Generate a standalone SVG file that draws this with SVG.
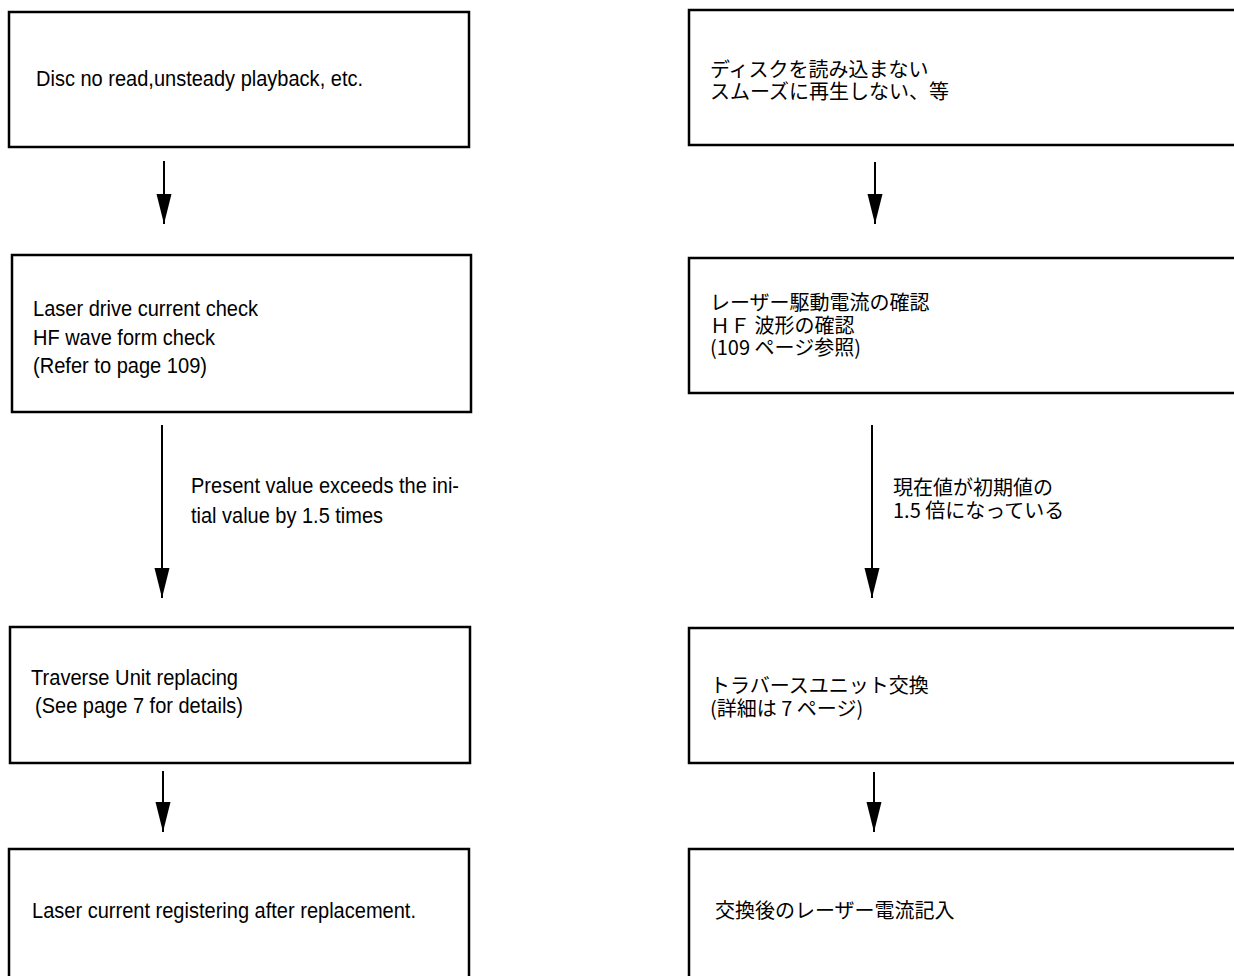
<svg xmlns="http://www.w3.org/2000/svg" width="1234" height="976" viewBox="0 0 1234 976">
<style>
.box{fill:#fff;stroke:#000;stroke-width:2.5}
.en{font-family:"Liberation Sans",Arial,sans-serif;font-size:22px;fill:#000}
.jp{font-family:"Noto Sans CJK JP","Noto Sans",sans-serif;font-size:20px;fill:#000}
.con{stroke:#000;stroke-width:2;fill:none;marker-end:url(#arr)}
</style>
<defs>
<marker id="arr" markerUnits="userSpaceOnUse" markerWidth="30" markerHeight="16" refX="30" refY="7.5" orient="auto" viewBox="0 0 30 15">
<path d="M0,0 L30,7.5 L0,15 z" fill="#000"/>
</marker>
</defs>
<rect width="1234" height="976" fill="#fff"/>
<g id="connectors">
<line class="con" x1="164" y1="161" x2="164" y2="224"/>
<line class="con" x1="162" y1="425" x2="162" y2="598"/>
<line class="con" x1="163" y1="771" x2="163" y2="832"/>
<line class="con" x1="875" y1="162" x2="875" y2="224"/>
<line class="con" x1="872" y1="425" x2="872" y2="598"/>
<line class="con" x1="874" y1="772" x2="874" y2="832"/>
<text class="en" x="191" y="493" textLength="268" lengthAdjust="spacingAndGlyphs">Present value exceeds the ini-</text>
<text class="en" x="191" y="523" textLength="192" lengthAdjust="spacingAndGlyphs">tial value by 1.5 times</text>
<text class="jp" x="893" y="495">現在値が初期値の</text>
<text class="jp" x="893" y="518">1.5 倍になっている</text>
</g>
<g id="n1"><rect class="box" x="9" y="12" width="460" height="135"/><text class="en" x="36" y="86" textLength="327" lengthAdjust="spacingAndGlyphs">Disc no read,unsteady playback, etc.</text></g>
<g id="n2"><rect class="box" x="12" y="255" width="459" height="157"/><text class="en" x="33" y="316" textLength="225" lengthAdjust="spacingAndGlyphs">Laser drive current check</text><text class="en" x="33" y="344.5" textLength="182" lengthAdjust="spacingAndGlyphs">HF wave form check</text><text class="en" x="33" y="373" textLength="174" lengthAdjust="spacingAndGlyphs">(Refer to page 109)</text></g>
<g id="n3"><rect class="box" x="10" y="627" width="460" height="136"/><text class="en" x="31" y="685" textLength="207" lengthAdjust="spacingAndGlyphs">Traverse Unit replacing</text><text class="en" x="35" y="713" textLength="208" lengthAdjust="spacingAndGlyphs">(See page 7 for details)</text></g>
<g id="n4"><rect class="box" x="9" y="849" width="460" height="200"/><text class="en" x="32" y="918" textLength="384" lengthAdjust="spacingAndGlyphs">Laser current registering after replacement.</text></g>
<g id="m1"><rect class="box" x="689" y="10" width="600" height="135"/><text class="jp" x="710" y="77">ディスクを読み込まない</text><text class="jp" x="710" y="99">スムーズに再生しない、等</text></g>
<g id="m2"><rect class="box" x="689" y="258" width="600" height="135"/><text class="jp" x="710" y="310">レーザー駆動電流の確認</text><text class="jp" x="710" y="333">ＨＦ 波形の確認</text><text class="jp" x="710" y="355">(109 ページ参照)</text></g>
<g id="m3"><rect class="box" x="689" y="628" width="600" height="135"/><text class="jp" x="710" y="693">トラバースユニット交換</text><text class="jp" x="710" y="716">(詳細は 7 ページ)</text></g>
<g id="m4"><rect class="box" x="689" y="849" width="600" height="200"/><text class="jp" x="715" y="918">交換後のレーザー電流記入</text></g>
</svg>
